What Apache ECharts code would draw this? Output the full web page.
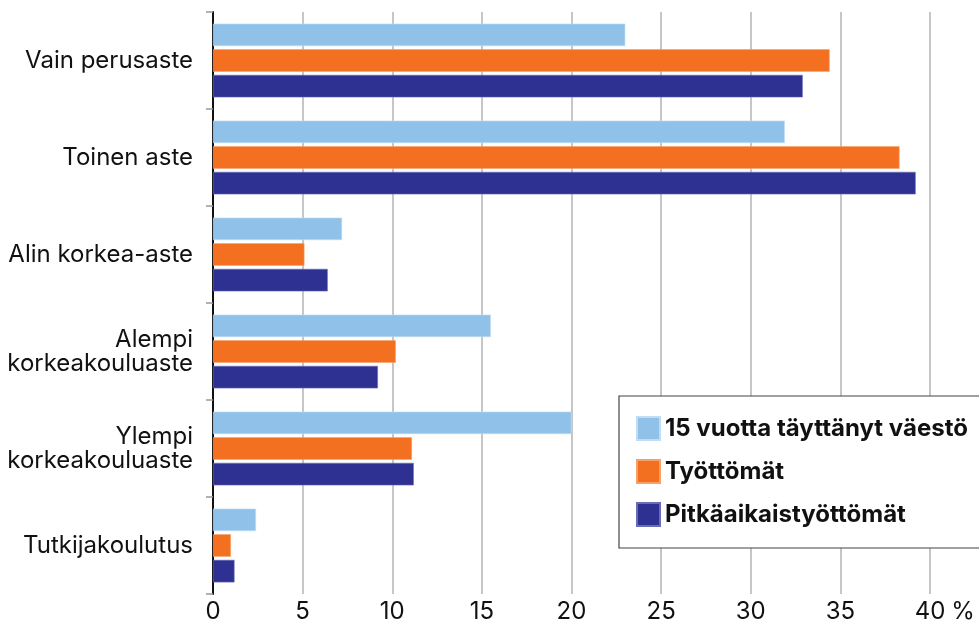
<!DOCTYPE html>
<html>
<head>
<meta charset="utf-8">
<script src="https://cdn.jsdelivr.net/npm/echarts@6/dist/echarts.min.js"></script>
<style>
  html, body { margin: 0; padding: 0; background: #fff; }
  #chart { width: 979px; height: 628px; }
</style>
</head>
<body>
<div id="chart"></div>
<script>
// koulutusaste, osuus (%)
const categories = [
  'Vain perusaste',
  'Toinen aste',
  'Alin korkea-aste',
  'Alempi\nkorkeakouluaste',
  'Ylempi\nkorkeakouluaste',
  'Tutkijakoulutus'
];
const seriesNames = ['15 vuotta täyttänyt väestö', 'Työttömät', 'Pitkäaikaistyöttömät'];
const vaesto = [23.0, 31.9, 7.2, 15.5, 20.0, 2.4];
const tyottomat = [34.4, 38.3, 5.1, 10.2, 11.1, 1.0];
const pitkaaikais = [32.9, 39.2, 6.4, 9.2, 11.2, 1.2];
const xTicks = [0, 5, 10, 15, 20, 25, 30, 35, 40];

const colors = ['#90c1e8', '#f37021', '#2e3192'];
const edges = ['#c2ddf3', '#f7a06a', '#6a6cb6'];
const font = 'Inter, "Noto Sans", sans-serif';

const chart = echarts.init(document.getElementById('chart'));

const makeSeries = (name, data, i) => ({
  name,
  type: 'bar',
  data,
  barWidth: 22.5,
  barGap: '14%',
  itemStyle: { color: colors[i], borderColor: edges[i], borderWidth: 0.6 },
  emphasis: { disabled: true }
});

chart.setOption({
  backgroundColor: '#fff',
  animation: false,
  textStyle: { fontFamily: font },
  grid: { left: 213, right: 49, top: 12, bottom: 34, containLabel: false, outerBoundsMode: 'none' },
  xAxis: {
    type: 'value',
    min: xTicks[0],
    max: xTicks[xTicks.length - 1],
    interval: 5,
    axisLine: { show: false },
    axisTick: { show: false },
    axisLabel: { color: '#111', fontSize: 24, margin: 6, fontFamily: font },
    splitLine: { show: true, lineStyle: { color: '#b3b3b3', width: 1.5 } },
    name: '%',
    nameLocation: 'end',
    nameGap: 17,
    nameTextStyle: { color: '#111', fontSize: 24, fontFamily: font, verticalAlign: 'top', padding: [6, 0, 0, 0] }
  },
  yAxis: {
    type: 'category',
    data: categories,
    inverse: true,
    axisLine: { show: true, lineStyle: { color: '#111', width: 2 } },
    axisTick: { show: true, length: 7, lineStyle: { color: '#999', width: 1.5 } },
    axisLabel: { color: '#111', fontSize: 24, lineHeight: 24, margin: 20, align: 'right', fontFamily: font },
    splitLine: { show: false }
  },
  legend: {
    orient: 'vertical',
    left: 619,
    top: 396,
    data: seriesNames,
    itemWidth: 23,
    itemHeight: 23,
    itemGap: 18,
    icon: 'rect',
    backgroundColor: '#fff',
    borderColor: '#444',
    borderWidth: 1.2,
    borderRadius: 0,
    padding: [20, 30, 21, 17],
    textStyle: { color: '#111', fontSize: 24, fontWeight: 'bold', fontFamily: font, padding: [0, 0, 0, 0] }
  },
  series: [
    makeSeries(seriesNames[0], vaesto, 0),
    makeSeries(seriesNames[1], tyottomat, 1),
    makeSeries(seriesNames[2], pitkaaikais, 2)
  ]
});
</script>
</body>
</html>
